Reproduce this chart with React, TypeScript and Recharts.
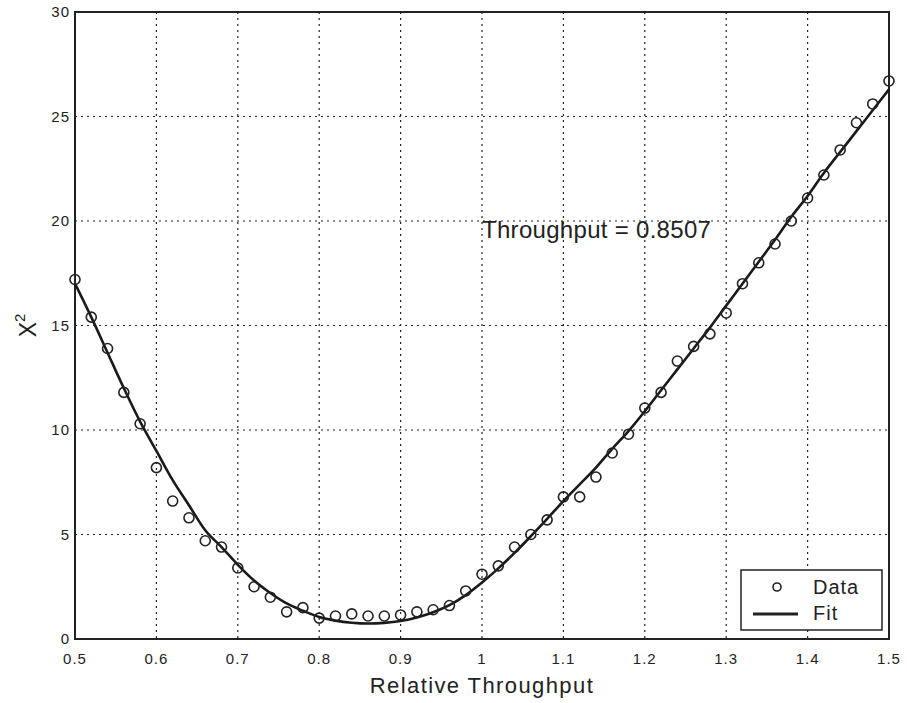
import {
  ComposedChart,
  Scatter,
  Line,
  XAxis,
  YAxis,
  CartesianGrid,
  ReferenceArea,
  ReferenceDot,
  Legend,
} from "recharts";

const throughput = [
  0.5, 0.52, 0.54, 0.56, 0.58, 0.6, 0.62, 0.64, 0.66, 0.68, 0.7, 0.72, 0.74,
  0.76, 0.78, 0.8, 0.82, 0.84, 0.86, 0.88, 0.9, 0.92, 0.94, 0.96, 0.98, 1.0,
  1.02, 1.04, 1.06, 1.08, 1.1, 1.12, 1.14, 1.16, 1.18, 1.2, 1.22, 1.24, 1.26,
  1.28, 1.3, 1.32, 1.34, 1.36, 1.38, 1.4, 1.42, 1.44, 1.46, 1.48, 1.5,
];

const measured = [
  17.2, 15.4, 13.9, 11.8, 10.3, 8.2, 6.6, 5.8, 4.7, 4.4, 3.4, 2.5, 2.0, 1.3,
  1.5, 1.0, 1.1, 1.2, 1.1, 1.1, 1.15, 1.3, 1.4, 1.6, 2.3, 3.1, 3.5, 4.4, 5.0,
  5.7, 6.8, 6.8, 7.75, 8.9, 9.8, 11.05, 11.8, 13.3, 14.0, 14.6, 15.6, 17.0,
  18.0, 18.9, 20.0, 21.1, 22.2, 23.4, 24.7, 25.6, 26.7,
];

const fitted = [
  17.0, 15.4, 13.7, 12.0, 10.4, 9.0, 7.6, 6.4, 5.2, 4.4, 3.55, 2.8, 2.2, 1.7,
  1.35, 1.05, 0.88, 0.78, 0.74, 0.77, 0.86, 1.03, 1.28, 1.62, 2.1, 2.7, 3.38,
  4.12, 4.92, 5.75, 6.6, 7.4, 8.2, 9.1, 9.95, 10.9, 11.9, 12.9, 13.9, 14.9,
  15.95, 17.0, 18.05, 19.1, 20.2, 21.2, 22.3, 23.3, 24.3, 25.3, 26.3,
];

const xTicks = [0.5, 0.6, 0.7, 0.8, 0.9, 1, 1.1, 1.2, 1.3, 1.4, 1.5];
const yTicks = [0, 5, 10, 15, 20, 25, 30];

const rows = throughput.map((x, i) => ({ x, data: measured[i], fit: fitted[i] }));

const FONT = "'Liberation Sans', Arial, sans-serif";
const tickStyle = { fontSize: 15, fill: "#222", fontFamily: FONT, letterSpacing: 1 };

const Ring = (props: any) => (
  <circle cx={props.cx} cy={props.cy} r={5} fill="none" stroke="#222" strokeWidth={1.6} />
);

const YLabel = (props: any) => {
  const vb = props.viewBox || { x: 0, y: 0, width: 75, height: 627 };
  const cx = 28;
  const cy = vb.y + vb.height / 2;
  return (
    <text
      x={cx}
      y={cy}
      transform={`rotate(-90, ${cx}, ${cy})`}
      textAnchor="middle"
      dominantBaseline="central"
      fontFamily={FONT}
      fontSize={23}
      fill="#222"
    >
      X<tspan dy={-9} fontSize={15}>2</tspan>
    </text>
  );
};

const LegendBox = () => (
  <svg width={143} height={62} style={{ display: "block" }}>
    <rect x={1} y={1} width={141} height={60} fill="#fff" stroke="#222" strokeWidth={1.5} />
    <circle cx={37} cy={18} r={4} fill="none" stroke="#222" strokeWidth={1.6} />
    <text x={73} y={18} dominantBaseline="central" fontFamily={FONT} fontSize={20} letterSpacing={1} fill="#222">
      Data
    </text>
    <line x1={13} y1={45} x2={58} y2={45} stroke="#222" strokeWidth={3} />
    <text x={73} y={44} dominantBaseline="central" fontFamily={FONT} fontSize={20} letterSpacing={1} fill="#222">
      Fit
    </text>
  </svg>
);

const App = () => {
  return (
    <div style={{ position: "absolute", left: 0, top: 0, background: "#fff" }}>
      <ComposedChart
        width={907}
        height={703}
        data={rows}
        margin={{ top: 12, right: 18, left: 0, bottom: 0 }}
      >
        <CartesianGrid stroke="#222" strokeDasharray="2 4" strokeWidth={1.2} />
        <XAxis
          dataKey="x"
          type="number"
          domain={[0.5, 1.5]}
          ticks={xTicks}
          tickFormatter={(v) => String(v)}
          height={64}
          tickSize={0}
          tickMargin={14}
          tickLine={false}
          axisLine={false}
          tick={tickStyle}
          label={{
            value: "Relative Throughput",
            position: "insideBottom",
            offset: 10,
            fontSize: 22,
            fill: "#222",
            fontFamily: FONT,
            letterSpacing: 1.4,
          }}
        />
        <YAxis
          type="number"
          domain={[0, 30]}
          ticks={yTicks}
          width={75}
          tickSize={0}
          tickMargin={5}
          tickLine={false}
          axisLine={false}
          tick={tickStyle}
          label={<YLabel />}
        />
        <ReferenceArea
          x1={0.5}
          x2={1.5}
          y1={0}
          y2={30}
          fill="none"
          fillOpacity={0}
          stroke="#222"
          strokeWidth={2}
          ifOverflow="visible"
        />
        <Line
          type="monotone"
          dataKey="fit"
          stroke="#1a1a1a"
          strokeWidth={2.6}
          dot={false}
          activeDot={false}
          isAnimationActive={false}
          legendType="line"
          name="Fit"
        />
        <Scatter
          dataKey="data"
          shape={<Ring />}
          isAnimationActive={false}
          name="Data"
        />
        <ReferenceDot
          x={1.0}
          y={19.6}
          r={0}
          fill="none"
          stroke="none"
          ifOverflow="visible"
          label={{
            value: "Throughput = 0.8507",
            position: "right",
            offset: 0,
            fontSize: 24,
            fill: "#222",
            fontFamily: FONT,
            letterSpacing: 0.3,
          }}
        />
        <Legend
          layout="horizontal"
          verticalAlign="middle"
          align="center"
          content={() => <LegendBox />}
          wrapperStyle={{ top: 569, left: 740, width: 143, height: 62, bottom: "auto", right: "auto" }}
        />
      </ComposedChart>
    </div>
  );
};

export default App;
